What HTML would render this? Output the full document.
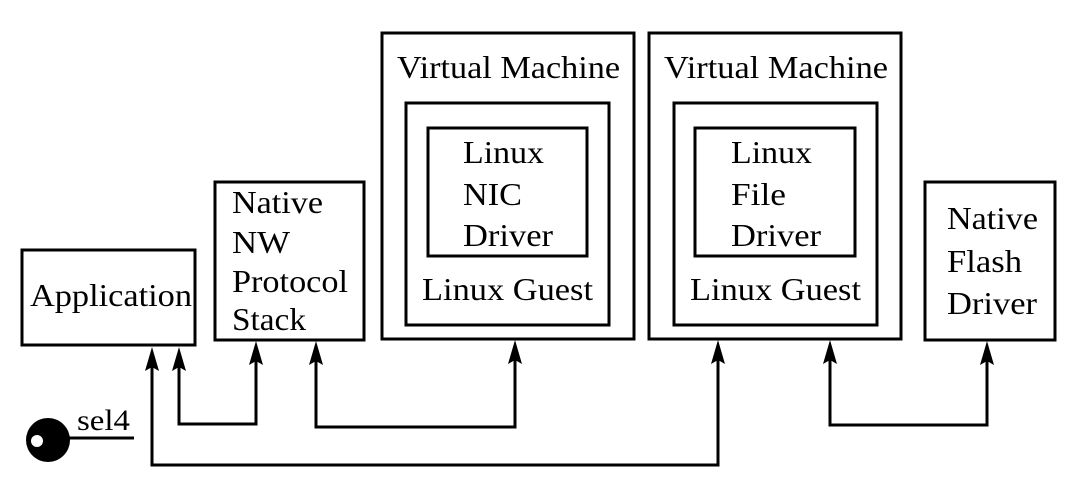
<!DOCTYPE html>
<html><head><style>html,body{margin:0;padding:0;background:#fff}</style></head>
<body>
<svg width="1080" height="488" viewBox="0 0 1080 488" xmlns="http://www.w3.org/2000/svg" font-family="Liberation Serif, serif" font-size="32" fill="#000">
<g fill="none" stroke="#000" stroke-width="3">
<rect x="22" y="250" width="173" height="95"/>
<rect x="215" y="182" width="149" height="158"/>
<rect x="382" y="33" width="252" height="306"/>
<rect x="406" y="103" width="203" height="222"/>
<rect x="428" y="128" width="159" height="128"/>
<rect x="649" y="33" width="252" height="306"/>
<rect x="674" y="103" width="203" height="222"/>
<rect x="695" y="128" width="160" height="128"/>
<rect x="925" y="182" width="130" height="158"/>
</g>
<g fill="none" stroke="#000" stroke-width="3">
<path d="M179,360 V424 H256 V352"/>
<path d="M316,352 V427 H515 V352"/>
<path d="M152,360 V465 H718 V352"/>
<path d="M830,352 V425 H987 V352"/>
<line x1="65" y1="438" x2="134" y2="438"/>
</g>
<g fill="#000">
<path d="M152,347 L159,371 L152,367 L145,371 Z"/>
<path d="M179,347 L186,371 L179,367 L172,371 Z"/>
<path d="M256,341 L263,365 L256,361 L249,365 Z"/>
<path d="M316,341 L323,365 L316,361 L309,365 Z"/>
<path d="M515,340 L522,364 L515,360 L508,364 Z"/>
<path d="M718,340 L725,364 L718,360 L711,364 Z"/>
<path d="M830,340 L837,364 L830,360 L823,364 Z"/>
<path d="M987,341 L994,365 L987,361 L980,365 Z"/>
</g>
<circle cx="48" cy="440" r="22" fill="#000"/>
<circle cx="37" cy="441" r="6" fill="#fff"/>
<text x="77" y="430" font-size="30" textLength="53" lengthAdjust="spacingAndGlyphs">sel4</text>
<text x="30" y="306" textLength="162" lengthAdjust="spacingAndGlyphs">Application</text>
<text x="232" y="213" textLength="91" lengthAdjust="spacingAndGlyphs">Native</text>
<text x="232" y="253" textLength="58" lengthAdjust="spacingAndGlyphs">NW</text>
<text x="232" y="292" textLength="116" lengthAdjust="spacingAndGlyphs">Protocol</text>
<text x="232" y="330" textLength="74" lengthAdjust="spacingAndGlyphs">Stack</text>
<text x="397" y="78" textLength="223" lengthAdjust="spacingAndGlyphs">Virtual Machine</text>
<text x="463" y="163" textLength="81" lengthAdjust="spacingAndGlyphs">Linux</text>
<text x="463" y="205" textLength="59" lengthAdjust="spacingAndGlyphs">NIC</text>
<text x="463" y="246" textLength="90" lengthAdjust="spacingAndGlyphs">Driver</text>
<text x="422" y="300" textLength="171" lengthAdjust="spacingAndGlyphs">Linux Guest</text>
<text x="664" y="78" textLength="224" lengthAdjust="spacingAndGlyphs">Virtual Machine</text>
<text x="731" y="163" textLength="81" lengthAdjust="spacingAndGlyphs">Linux</text>
<text x="731" y="205" textLength="55" lengthAdjust="spacingAndGlyphs">File</text>
<text x="731" y="246" textLength="90" lengthAdjust="spacingAndGlyphs">Driver</text>
<text x="690" y="300" textLength="171" lengthAdjust="spacingAndGlyphs">Linux Guest</text>
<text x="947" y="229" textLength="91" lengthAdjust="spacingAndGlyphs">Native</text>
<text x="947" y="272" textLength="75" lengthAdjust="spacingAndGlyphs">Flash</text>
<text x="947" y="314" textLength="90" lengthAdjust="spacingAndGlyphs">Driver</text>
</svg>
</body></html>
